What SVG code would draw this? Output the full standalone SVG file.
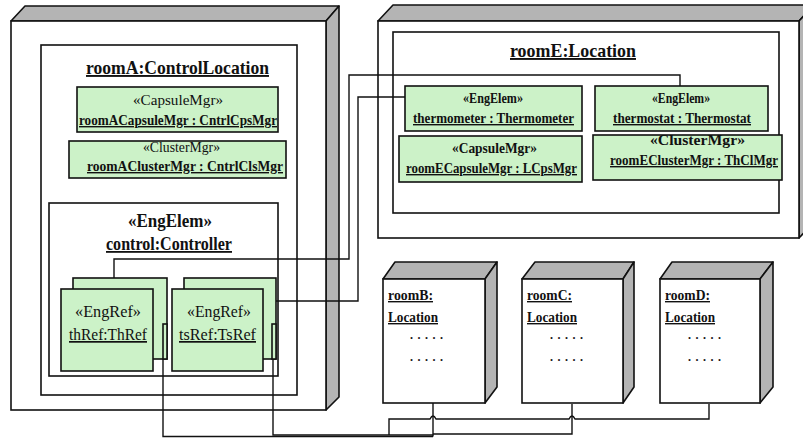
<svg xmlns="http://www.w3.org/2000/svg" width="803" height="439" viewBox="0 0 803 439">
<style>
.front{fill:#fff;stroke:#111;stroke-width:1.6}
.side{fill:#b4b4b4;stroke:#111;stroke-width:1.6;stroke-linejoin:round}
.box{fill:#fff;stroke:#111;stroke-width:1.6}
.g{fill:#ccf2c8;stroke:#111;stroke-width:1.6}
.t{font-family:'Liberation Serif','Times New Roman',serif;fill:#111}
.b{font-weight:bold}
.u{text-decoration:underline}
.d{font-family:'Liberation Serif','Times New Roman',serif;font-weight:bold;font-size:12px;fill:#111}
.c{fill:none;stroke:#111;stroke-width:1.4}
</style>
<g id="roomA-node">
<polygon class="side" points="11,21 25,6 339,6 326,21"/>
<polygon class="side" points="326,21 339,6 339,397 326,410"/>
<rect class="front" x="11" y="21" width="315" height="389"/>
<rect class="box" x="41" y="45" width="256" height="350"/>
<text class="t b u" x="86" y="74" font-size="19" textLength="183" lengthAdjust="spacingAndGlyphs">roomA:ControlLocation</text>
</g>
<g id="roomACapsuleMgr">
<rect class="g" x="77" y="87" width="201" height="45"/>
<text class="t" x="133" y="105" font-size="14" textLength="90" lengthAdjust="spacingAndGlyphs">«CapsuleMgr»</text>
<text class="t b u" x="79" y="125" font-size="14" textLength="198" lengthAdjust="spacingAndGlyphs">roomACapsuleMgr : CntrlCpsMgr</text>
</g>
<g id="roomAClusterMgr">
<rect class="g" x="69" y="141" width="217" height="37"/>
<text class="t" x="143" y="152" font-size="14" textLength="77" lengthAdjust="spacingAndGlyphs">«ClusterMgr»</text>
<text class="t b u" x="87" y="171" font-size="14" textLength="196" lengthAdjust="spacingAndGlyphs">roomAClusterMgr : CntrlClsMgr</text>
</g>
<g id="control">
<rect class="box" x="49" y="203" width="229" height="173"/>
<text class="t b" x="128" y="227" font-size="18" textLength="84" lengthAdjust="spacingAndGlyphs">«EngElem»</text>
<text class="t b u" x="106" y="250" font-size="18" textLength="126" lengthAdjust="spacingAndGlyphs">control:Controller</text>
</g>
<g id="thRef">
<rect class="g" x="73" y="278" width="94" height="81"/>
<rect class="g" x="61" y="289" width="92" height="82"/>
<rect class="g" x="163" y="324" width="4" height="35"/>
<text class="t" x="75" y="317" font-size="17" textLength="66" lengthAdjust="spacingAndGlyphs">«EngRef»</text>
<text class="t u" x="69" y="340" font-size="17" textLength="78" lengthAdjust="spacingAndGlyphs">thRef:ThRef</text>
</g>
<g id="tsRef">
<rect class="g" x="184" y="278" width="92" height="81"/>
<rect class="g" x="172" y="289" width="91" height="82"/>
<rect class="g" x="272" y="324" width="4" height="35"/>
<text class="t" x="187" y="317" font-size="17" textLength="64" lengthAdjust="spacingAndGlyphs">«EngRef»</text>
<text class="t u" x="179" y="340" font-size="17" textLength="77" lengthAdjust="spacingAndGlyphs">tsRef:TsRef</text>
</g>
<g id="roomE-node">
<polygon class="side" points="378,21 393,5 814,5 799,21"/>
<polygon class="side" points="799,21 814,5 814,222 799,238"/>
<rect class="front" x="378" y="21" width="421" height="217"/>
<rect class="box" x="393" y="32" width="386" height="181"/>
<text class="t b u" x="510" y="57" font-size="19" textLength="126" lengthAdjust="spacingAndGlyphs">roomE:Location</text>
</g>
<g id="thermometer">
<rect class="g" x="405" y="86" width="177" height="45"/>
<text class="t b" x="463" y="103" font-size="14" textLength="60" lengthAdjust="spacingAndGlyphs">«EngElem»</text>
<text class="t b u" x="413" y="123" font-size="14" textLength="161" lengthAdjust="spacingAndGlyphs">thermometer : Thermometer</text>
</g>
<g id="thermostat">
<rect class="g" x="595" y="86" width="173" height="45"/>
<text class="t b" x="652" y="103" font-size="14" textLength="58" lengthAdjust="spacingAndGlyphs">«EngElem»</text>
<text class="t b u" x="613" y="123" font-size="14" textLength="138" lengthAdjust="spacingAndGlyphs">thermostat : Thermostat</text>
</g>
<g id="roomECapsuleMgr">
<rect class="g" x="399" y="136" width="183" height="46"/>
<text class="t b" x="452" y="153" font-size="14" textLength="85" lengthAdjust="spacingAndGlyphs">«CapsuleMgr»</text>
<text class="t b u" x="406" y="173" font-size="14" textLength="171" lengthAdjust="spacingAndGlyphs">roomECapsuleMgr : LCpsMgr</text>
</g>
<g id="roomEClusterMgr">
<rect class="g" x="593" y="135" width="189" height="45"/>
<text class="t b" x="650" y="145" font-size="14" textLength="95" lengthAdjust="spacingAndGlyphs">«ClusterMgr»</text>
<text class="t b u" x="610" y="165" font-size="14" textLength="168" lengthAdjust="spacingAndGlyphs">roomEClusterMgr : ThClMgr</text>
</g>
<g id="roomB">
<polygon class="side" points="383,279 395,262 497,262 485,279"/>
<polygon class="side" points="485,279 497,262 497,387 485,403"/>
<rect class="front" x="383" y="279" width="102" height="124"/>
<text class="t b u" x="388" y="300" font-size="14" textLength="45" lengthAdjust="spacingAndGlyphs">roomB:</text>
<text class="t b u" x="388" y="322" font-size="14" textLength="50" lengthAdjust="spacingAndGlyphs">Location</text>
<text class="d" x="410" y="339" textLength="33" lengthAdjust="spacing">.....</text>
<text class="d" x="410" y="361" textLength="33" lengthAdjust="spacing">.....</text>
</g>
<g id="roomC">
<polygon class="side" points="522,279 535,262 634,262 623,279"/>
<polygon class="side" points="623,279 634,262 634,387 623,403"/>
<rect class="front" x="522" y="279" width="101" height="124"/>
<text class="t b u" x="527" y="300" font-size="14" textLength="45" lengthAdjust="spacingAndGlyphs">roomC:</text>
<text class="t b u" x="527" y="322" font-size="14" textLength="50" lengthAdjust="spacingAndGlyphs">Location</text>
<text class="d" x="550" y="339" textLength="33" lengthAdjust="spacing">.....</text>
<text class="d" x="550" y="361" textLength="33" lengthAdjust="spacing">.....</text>
</g>
<g id="roomD">
<polygon class="side" points="660,279 672,262 773,262 760,279"/>
<polygon class="side" points="760,279 773,262 773,387 760,403"/>
<rect class="front" x="660" y="279" width="100" height="124"/>
<text class="t b u" x="665" y="300" font-size="14" textLength="45" lengthAdjust="spacingAndGlyphs">roomD:</text>
<text class="t b u" x="665" y="322" font-size="14" textLength="50" lengthAdjust="spacingAndGlyphs">Location</text>
<text class="d" x="688" y="339" textLength="33" lengthAdjust="spacing">.....</text>
<text class="d" x="688" y="361" textLength="33" lengthAdjust="spacing">.....</text>
</g>
<g id="connectors">
<path class="c" d="M114,278 V259 H349 V75 H680 V86"/>
<path class="c" d="M276,301 H358 V97 H405"/>
<path class="c" d="M163,359 V436.5 H433"/>
<path class="c" d="M273,359 V435 H433"/>
<path class="c" d="M433,403 V436.5"/>
<path class="c" d="M572,404 V434 H433"/>
<path class="c" d="M709,404 V419 H575 Q572,413 569,419 H436 Q433,413 430,419 H389 V435"/>
</g>
</svg>
